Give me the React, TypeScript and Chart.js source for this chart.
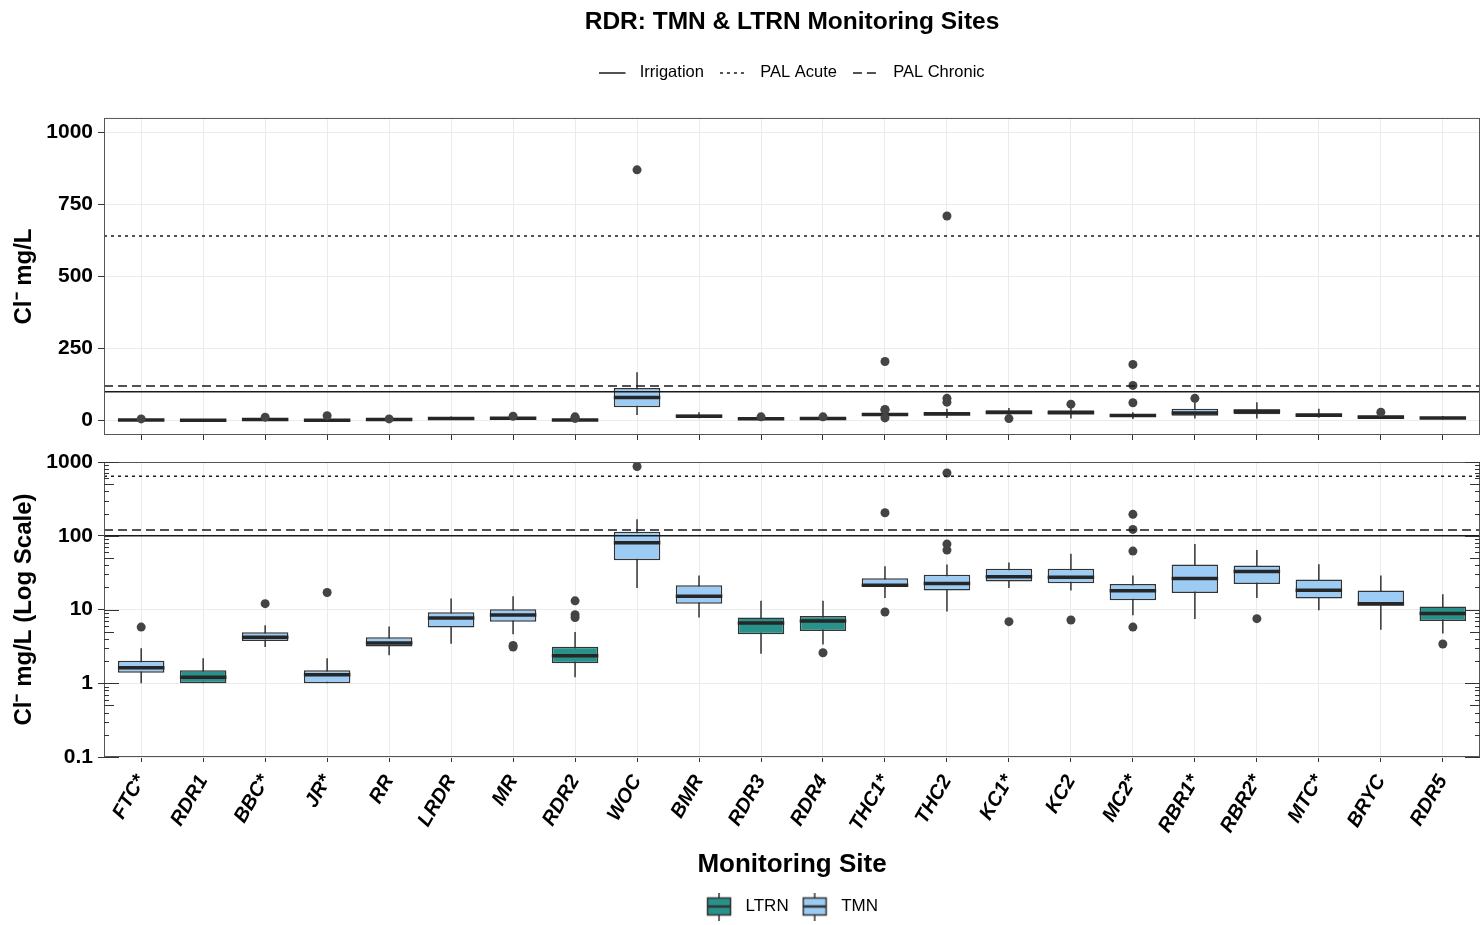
import React, { useEffect, useRef } from 'react';
import { Chart, registerables } from 'chart.js';

Chart.register(...registerables);

// ---------------- data ----------------
const TITLE = 'RDR: TMN & LTRN Monitoring Sites';
const sites = ['FTC*', 'RDR1', 'BBC*', 'JR*', 'RR', 'LRDR', 'MR', 'RDR2', 'WOC', 'BMR', 'RDR3', 'RDR4', 'THC1*', 'THC2', 'KC1*', 'KC2', 'MC2*', 'RBR1*', 'RBR2*', 'MTC*', 'BRYC', 'RDR5'];
const network = ['TMN', 'LTRN', 'TMN', 'TMN', 'TMN', 'TMN', 'TMN', 'LTRN', 'TMN', 'TMN', 'LTRN', 'LTRN', 'TMN', 'TMN', 'TMN', 'TMN', 'TMN', 'TMN', 'TMN', 'TMN', 'TMN', 'LTRN'];
const groups = ['LTRN', 'TMN'];

const q1 = [1.39, 1.0, 3.73, 1.0, 3.16, 5.72, 6.84, 1.87, 46.7, 12.0, 4.6, 5.1, 20.2, 18.1, 24.0, 22.7, 13.3, 16.8, 22.2, 14.1, 11.2, 6.98];
const median = [1.62, 1.21, 4.19, 1.3, 3.5, 7.66, 8.42, 2.36, 80.3, 15.1, 6.55, 6.98, 21.3, 22.5, 27.7, 27.4, 17.9, 26.3, 32.8, 18.2, 12.0, 8.8];
const q3 = [2.02, 1.5, 4.9, 1.5, 4.19, 9.16, 10.1, 3.13, 113, 21.3, 7.76, 8.16, 26.6, 29.5, 35.6, 35.6, 22.2, 40.8, 39.6, 25.5, 18.1, 11.0];

// whiskers / outliers as computed on the log scale (lower panel)
const logWhiskerLow = [1.0, 1.0, 3.09, 1.0, 2.4, 3.44, 4.6, 1.21, 19.6, 7.76, 2.51, 3.36, 14.3, 9.36, 19.6, 18.1, 8.34, 7.43, 14.3, 9.75, 5.33, 4.74];
const logWhiskerHigh = [2.99, 2.19, 6.1, 2.19, 5.9, 14.1, 15.1, 4.94, 168, 28.9, 13.1, 13.1, 38.7, 40.8, 43.5, 56.9, 28.9, 77.1, 63.9, 41.2, 28.9, 16.1];
const logOutliers = [[5.78], [], [12.0], [17.0], [], [], [3.26, 3.09], [13.1, 8.52, 7.76], [870], [], [], [2.59], [205, 9.25], [710, 77.1, 63.9], [6.84], [7.2], [195, 122, 61.9, 5.78], [], [7.52], [], [], [3.4]];

// whiskers / outliers as computed on the linear scale (upper panel)
const linWhiskerLow = [1.0, 1.0, 3.09, 1.0, 2.4, 3.44, 3.09, 1.21, 19.6, 7.76, 2.51, 2.59, 14.3, 9.36, 19.6, 7.2, 5.78, 7.43, 7.52, 9.75, 5.33, 3.4];
const linWhiskerHigh = [2.99, 2.19, 6.1, 2.19, 5.2, 14.1, 14.0, 4.94, 168, 28.9, 12.0, 12.0, 33, 40.8, 43.5, 45, 28.9, 65, 63.9, 41.2, 25, 16.1];
const linOutliers = [[5.78], [], [12.0], [17.0], [5.9], [], [15.1], [13.1, 8.52, 7.76], [870], [], [13.1], [13.1], [205, 38.7, 37, 9.25], [710, 77.1, 63.9], [6.84], [56.9], [195, 122, 61.9], [77.1], [], [], [28.9], []];

const guideLabels = ['Irrigation', 'PAL Acute', 'PAL Chronic'];
const guideValues = [100, 640, 120];

const linTicks = [0, 250, 500, 750, 1000];
const logTicks = [0.1, 1, 10, 100, 1000];

// ---------------- styles ----------------
const FONT = "'Liberation Sans', Arial, Helvetica, sans-serif";
const FILL: Record<string, string> = { LTRN: '#27918A', TMN: '#9CCBF4' };
const OUTLINE = '#333333';
const GUIDE = '#1a1a1a';
const GRID = '#EBEBEB';
const guideDash = [[], [3, 4], [9, 5]];
const X_PAD = 0.6;
const xMin = -X_PAD;
const xMax = sites.length - 1 + X_PAD;
const BOX_FRACTION = 0.75;

Chart.defaults.font.family = FONT;
Chart.defaults.color = '#000';

function boxGlyph(fill: string) {
  const c = document.createElement('canvas');
  c.width = 31;
  c.height = 28;
  const g = c.getContext('2d')!;
  g.strokeStyle = OUTLINE;
  g.lineWidth = 1.5;
  g.beginPath();
  g.moveTo(13, 0);
  g.lineTo(13, 28);
  g.stroke();
  g.fillStyle = fill;
  g.fillRect(1.5, 5.5, 23, 17);
  g.strokeRect(1.5, 5.5, 23, 17);
  g.lineWidth = 2.5;
  g.beginPath();
  g.moveTo(1.5, 14);
  g.lineTo(24.5, 14);
  g.stroke();
  return c;
}

function lineGlyph(dash: number[]) {
  const c = document.createElement('canvas');
  c.width = 32;
  c.height = 6;
  const g = c.getContext('2d')!;
  g.strokeStyle = GUIDE;
  g.lineWidth = 1.5;
  g.setLineDash(dash);
  g.beginPath();
  g.moveTo(0, 3);
  g.lineTo(26, 3);
  g.stroke();
  return c;
}

const panelBorder = {
  id: 'panelBorder',
  afterDatasetsDraw(chart: any) {
    const { ctx, chartArea } = chart;
    ctx.save();
    ctx.strokeStyle = '#555';
    ctx.lineWidth = 1;
    ctx.strokeRect(chartArea.left + 0.5, chartArea.top + 0.5, chartArea.right - chartArea.left - 1, chartArea.bottom - chartArea.top - 1);
    ctx.restore();
  },
};

const logTickMarks = {
  id: 'logTickMarks',
  afterDatasetsDraw(chart: any) {
    const y = chart.scales.y;
    if (y.type !== 'logarithmic') return;
    const { ctx, chartArea } = chart;
    ctx.save();
    ctx.strokeStyle = OUTLINE;
    ctx.lineWidth = 1;
    const e0 = Math.floor(Math.log10(y.min));
    const e1 = Math.ceil(Math.log10(y.max));
    for (let e = e0; e <= e1; e++) {
      for (let k = 1; k <= 9; k++) {
        const v = k * Math.pow(10, e);
        if (v < y.min * 0.999 || v > y.max * 1.001) continue;
        const py = Math.round(y.getPixelForValue(v)) + 0.5;
        const len = k === 1 ? 15 : k === 5 ? 10 : 5;
        ctx.beginPath();
        ctx.moveTo(chartArea.left, py);
        ctx.lineTo(chartArea.left + len, py);
        ctx.moveTo(chartArea.right, py);
        ctx.lineTo(chartArea.right - len, py);
        ctx.stroke();
      }
    }
    ctx.restore();
  },
};

function buildDatasets(lo: number[], hi: number[], outs: number[][]) {
  const guides = guideLabels.map((label, k) => ({
    type: 'line',
    label,
    data: [{ x: xMin, y: guideValues[k] }, { x: xMax, y: guideValues[k] }],
    borderColor: GUIDE,
    borderWidth: 1.5,
    borderDash: guideDash[k],
    pointRadius: 0,
    order: 0,
  }));
  const outlierDs = {
    type: 'scatter',
    label: 'outliers',
    data: outs.flatMap((arr, i) => arr.map((v) => ({ x: i, y: v }))),
    pointRadius: 4.5,
    backgroundColor: '#444',
    borderWidth: 0,
    order: 1,
  };
  const medianDs = {
    type: 'scatter',
    label: 'median',
    data: median.map((v, i) => ({ x: i, y: v })),
    pointStyle: 'line',
    pointRadius: 23.25,
    borderColor: '#262626',
    borderWidth: 3.5,
    order: 2,
  };
  const boxes = groups.map((g) => ({
    type: 'bar',
    label: g,
    data: sites.map((_, i) => i).filter((i) => network[i] === g).map((i) => ({ x: i, y: [q1[i], q3[i]] })),
    backgroundColor: FILL[g],
    borderColor: OUTLINE,
    borderWidth: 1.5,
    borderSkipped: false,
    grouped: false,
    barPercentage: BOX_FRACTION,
    categoryPercentage: 1,
    order: 3,
  }));
  const whiskers = {
    type: 'line',
    label: 'whiskers',
    data: sites.flatMap((_, i) => [{ x: i, y: lo[i] }, { x: i, y: hi[i] }, { x: i, y: null }]),
    borderColor: OUTLINE,
    borderWidth: 1.5,
    pointRadius: 0,
    spanGaps: false,
    order: 4,
  };
  return [...guides, outlierDs, medianDs, ...boxes, whiskers];
}

function makeConfig(kind: 'lin' | 'log'): any {
  const isLog = kind === 'log';
  const datasets = isLog
    ? buildDatasets(logWhiskerLow, logWhiskerHigh, logOutliers)
    : buildDatasets(linWhiskerLow, linWhiskerHigh, linOutliers);
  const yTicks = isLog ? logTicks : linTicks;
  return {
    type: 'bar',
    data: { datasets },
    plugins: [panelBorder, logTickMarks],
    options: {
      responsive: false,
      animation: false,
      events: [],
      layout: {
        autoPadding: false,
        padding: isLog ? { top: 17, right: 4, bottom: 0, left: 0 } : { top: 0, right: 4, bottom: 5, left: 0 },
      },
      scales: {
        x: {
          type: 'linear',
          min: xMin,
          max: xMax,
          offset: false,
          afterBuildTicks: (s: any) => {
            s.ticks = sites.map((_, i) => ({ value: i }));
          },
          afterFit: (s: any) => {
            s.paddingLeft = 0;
            s.paddingRight = 0;
            if (isLog) s.height = 128;
          },
          grid: { color: GRID, tickColor: OUTLINE, tickLength: 5, offset: false },
          border: { display: false },
          ticks: {
            display: isLog,
            autoSkip: false,
            minRotation: 60,
            maxRotation: 60,
            padding: 9,
            font: { size: 20, weight: 'bold', style: 'italic', family: FONT },
            color: '#000',
            callback: (_v: any, i: number) => sites[i],
          },
          title: {
            display: isLog,
            text: 'Monitoring Site',
            font: { size: 26, weight: 'bold', family: FONT },
            color: '#000',
            padding: { top: 0, bottom: 5 },
          },
        },
        y: {
          type: isLog ? 'logarithmic' : 'linear',
          min: isLog ? 0.1 : -50,
          max: isLog ? 1000 : 1050,
          afterBuildTicks: (s: any) => {
            s.ticks = yTicks.map((v) => ({ value: v }));
          },
          afterFit: (s: any) => {
            s.width = 104;
            s.paddingTop = 0;
            s.paddingBottom = 0;
          },
          grid: { color: GRID, tickColor: OUTLINE, tickLength: 6 },
          border: { display: false },
          ticks: {
            padding: 5,
            font: { size: 21, weight: 'bold', family: FONT },
            color: '#000',
            callback: (v: any) => String(v),
          },
          title: {
            display: true,
            text: isLog ? 'Cl\u207B mg/L (Log Scale)' : 'Cl\u207B mg/L',
            font: { size: 24, weight: 'bold', family: FONT },
            color: '#000',
            padding: { top: 10, bottom: 0 },
          },
        },
      },
      plugins: {
        tooltip: { enabled: false },
        title: {
          display: !isLog,
          text: TITLE,
          fullSize: false,
          font: { size: 24.5, weight: 'bold', family: FONT },
          color: '#000',
          padding: { top: 7.3, bottom: 12 },
        },
        subtitle: {
          display: !isLog,
          text: '',
          fullSize: false,
          weight: 500,
          font: { size: 10 },
          padding: { top: 14.75, bottom: 0 },
        },
        legend: {
          display: true,
          position: isLog ? 'bottom' : 'top',
          fullSize: false,
          labels: isLog
            ? {
                usePointStyle: true,
                pointStyleWidth: 31,
                padding: 13,
                font: { size: 17, family: FONT },
                color: '#000',
                generateLabels: () =>
                  groups.map((g, k) => ({
                    text: g,
                    pointStyle: boxGlyph(FILL[g]),
                    fillStyle: FILL[g],
                    strokeStyle: OUTLINE,
                    lineWidth: 1,
                    hidden: false,
                    datasetIndex: 5 + k,
                  })),
              }
            : {
                usePointStyle: true,
                pointStyleWidth: 32,
                padding: 16,
                font: { size: 16.5, family: FONT },
                color: '#000',
                generateLabels: () =>
                  guideLabels.map((t, k) => ({
                    text: t,
                    pointStyle: lineGlyph(guideDash[k]),
                    strokeStyle: GUIDE,
                    fillStyle: GUIDE,
                    lineWidth: 1.5,
                    hidden: false,
                    datasetIndex: k,
                  })),
              },
        },
      },
    },
  };
}

function BoxChart({ kind, height }: { kind: 'lin' | 'log'; height: number }) {
  const ref = useRef<HTMLCanvasElement | null>(null);
  useEffect(() => {
    if (!ref.current) return;
    const chart = new Chart(ref.current, makeConfig(kind));
    return () => chart.destroy();
  }, [kind]);
  return <canvas ref={ref} width={1484} height={height} style={{ display: 'block', width: 1484, height }} />;
}

export default function App() {
  return (
    <div style={{ position: 'absolute', left: 0, top: 0, width: 1484, height: 925, background: '#fff' }}>
      <BoxChart kind="lin" height={445} />
      <BoxChart kind="log" height={480} />
    </div>
  );
}
